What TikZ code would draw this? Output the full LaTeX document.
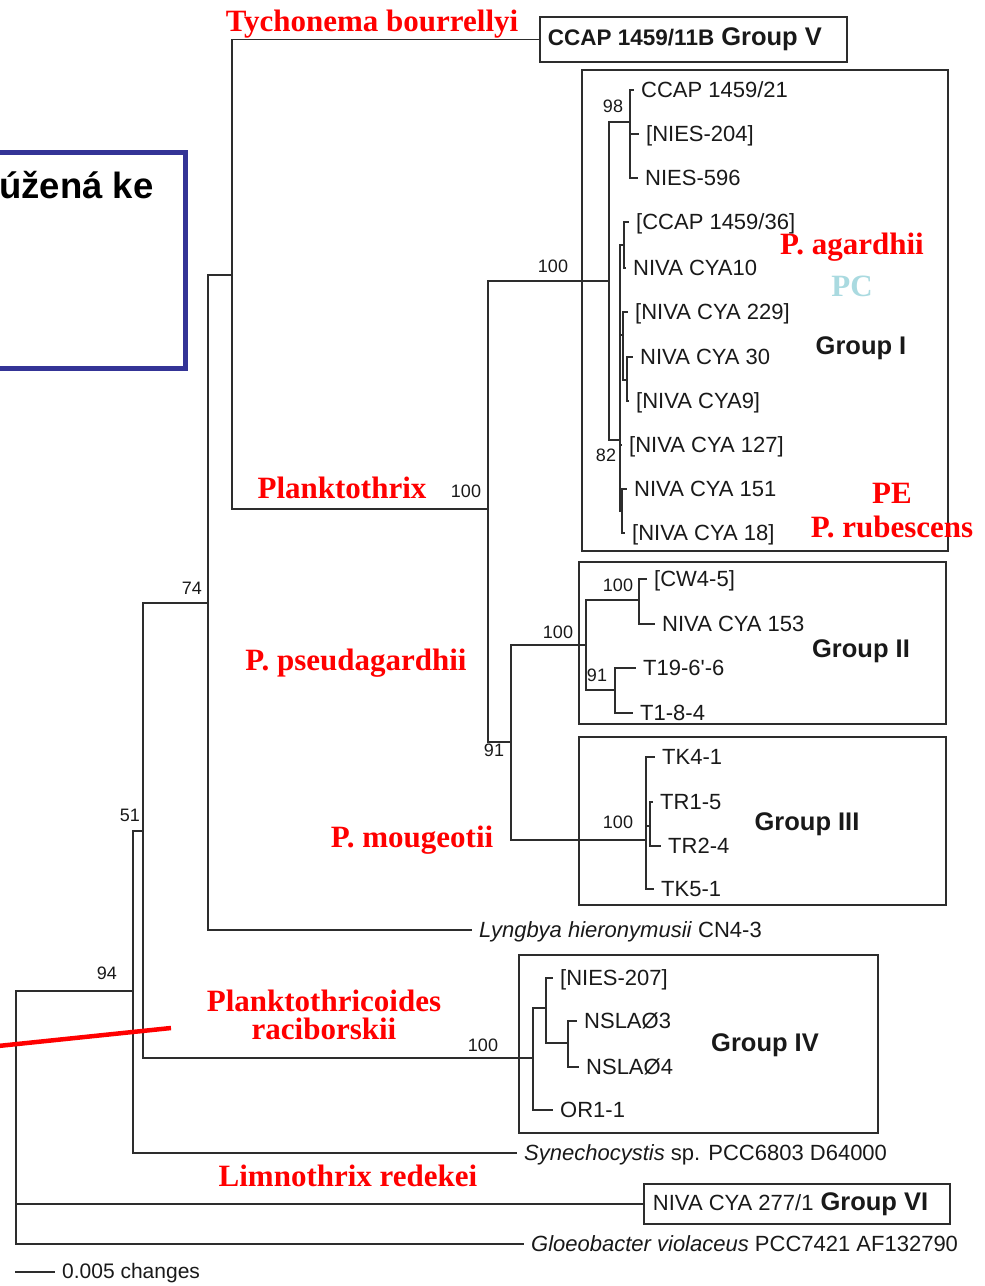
\documentclass[tikz,border=0pt]{standalone}
\usepackage{fontspec}
\setmainfont{Liberation Serif}
\setsansfont{Liberation Sans}
\definecolor{treegray}{RGB}{45,45,45}
\definecolor{leafink}{RGB}{25,25,25}
\definecolor{navyframe}{RGB}{52,52,150}
\definecolor{pcblue}{RGB}{170,218,224}
\begin{document}
\begin{tikzpicture}[x=1pt,y=-1pt,
  branch/.style={draw=treegray, line width=1.9pt},
  leaf/.style={anchor=west, inner xsep=7pt, inner ysep=0pt, text height=15.8pt, text depth=0pt,
    text=leafink, font=\sffamily\fontsize{22}{24}\selectfont},
  boot/.style={inner sep=0pt, text=leafink, font=\sffamily\fontsize{18}{20}\selectfont},
  grp/.style={inner sep=0pt, text=leafink, font=\sffamily\bfseries\fontsize{25.5}{28}\selectfont},
  taxon/.style={inner sep=0pt, text=red, font=\bfseries\fontsize{31}{33}\selectfont},
  gbox/.style={draw=treegray, line width=1.9pt, inner sep=0pt}]
\useasboundingbox (0,0) rectangle (985,1286);
\clip (0,0) rectangle (985,1286);

% framed caption block on the left
\draw[navyframe, line width=5pt] (-10,152.5) rectangle (185.5,368);
\node[anchor=base west, inner sep=0pt, font=\sffamily\bfseries\fontsize{36.5}{40}\selectfont] (cap) at (-1,198) {úžená ke};

% group frames
\node[gbox, minimum width=366pt, minimum height=481pt] (boxI) at (765,310.5) {};
\node[gbox, minimum width=367pt, minimum height=162pt] (boxII) at (762.5,643) {};
\node[gbox, minimum width=367pt, minimum height=168pt] (boxIII) at (762.5,821) {};
\node[gbox, minimum width=359pt, minimum height=178pt] (boxIV) at (698.5,1044) {};

% internal nodes of the tree
\coordinate (root) at (16,1100);
\coordinate (n94) at (133,991);
\coordinate (n51) at (143,831);
\coordinate (n74) at (208,603);
\coordinate (nTy) at (232,275);
\coordinate (nPl) at (488,509);
\coordinate (nGI) at (609,281);
\coordinate (n98) at (630,122);
\coordinate (n82) at (620,440);
\coordinate (nI1) at (624,245);
\coordinate (nI2) at (623,335);
\coordinate (nI3) at (627,380);
\coordinate (nI4) at (622,511);
\coordinate (n91) at (511,742);
\coordinate (nGII) at (586,645);
\coordinate (nCW) at (639,600);
\coordinate (nT) at (615,690);
\coordinate (nGIII) at (646,840);
\coordinate (nTR) at (650,826);
\coordinate (nIV) at (533,1058);
\coordinate (nIVa) at (546,1008);
\coordinate (nIVb) at (568,1043);

% terminal taxa
\node[leaf] (c21) at (634,90) {CCAP 1459/21};
\node[leaf] (n204) at (639,134) {[NIES-204]};
\node[leaf] (n596) at (638,178) {NIES-596};
\node[leaf] (c36) at (629,222) {[CCAP 1459/36]};
\node[leaf] (v10) at (626,268) {NIVA CYA10};
\node[leaf] (v229) at (628,312) {[NIVA CYA 229]};
\node[leaf] (v30) at (633,357) {NIVA CYA 30};
\node[leaf] (v9) at (629,401) {[NIVA CYA9]};
\node[leaf] (v127) at (622,445) {[NIVA CYA 127]};
\node[leaf] (v151) at (627,489) {NIVA CYA 151};
\node[leaf] (v18) at (625,533) {[NIVA CYA 18]};
\node[leaf] (cw) at (647,579) {[CW4-5]};
\node[leaf] (v153) at (655,624) {NIVA CYA 153};
\node[leaf] (t19) at (636,668) {T19-6\textquotesingle-6};
\node[leaf] (t18) at (633,713) {T1-8-4};
\node[leaf] (tk4) at (655,757) {TK4-1};
\node[leaf] (tr1) at (653,802) {TR1-5};
\node[leaf] (tr2) at (661,846) {TR2-4};
\node[leaf] (tk5) at (654,889) {TK5-1};
\node[leaf] (lyn) at (472,930) {\itshape Lyngbya hieronymusii\/\upshape\ CN4-3};
\node[leaf] (n207) at (553,978) {[NIES-207]};
\node[leaf] (ns3) at (577,1021) {NSLAØ3};
\node[leaf] (ns4) at (579,1067) {NSLAØ4};
\node[leaf] (or1) at (553,1110) {OR1-1};
\node[leaf] (syn) at (517,1153) {\itshape Synechocystis\/\upshape\ sp. PCC6803 D64000};
\node[leaf] (glo) at (524,1244) {\itshape Gloeobacter violaceus\/\upshape\ PCC7421 AF132790};
\node[gbox, anchor=west, inner xsep=8pt, minimum height=45pt, text=leafink, font=\sffamily\bfseries]
  (gV) at (539,39.5) {\fontsize{22.5}{24}\selectfont CCAP 1459/11B\hspace{7pt}\fontsize{25.5}{28}\selectfont Group V\rule{17pt}{0pt}};
\node[gbox, anchor=west, inner xsep=9pt, minimum height=40pt, text=leafink, font=\sffamily]
  (gVI) at (643,1204) {\fontsize{22}{24}\selectfont NIVA CYA 277/1\hspace{7pt}\bfseries\fontsize{25.5}{28}\selectfont Group VI\rule{13pt}{0pt}};

% branches
\draw[branch] (root) |- (n94);
\draw[branch] (root) |- (gVI.west);
\draw[branch] (root) |- (glo.west);
\draw[branch] (n94) |- (n51);
\draw[branch] (n94) |- (syn.west);
\draw[branch] (n51) |- (n74);
\draw[branch] (n51) |- (nIV);
\draw[branch] (n74) |- (nTy);
\draw[branch] (n74) |- (lyn.west);
\draw[branch] (nTy) |- (gV.west);
\draw[branch] (nTy) |- (nPl);
\draw[branch] (nPl) |- (nGI);
\draw[branch] (nPl) |- (n91);
\draw[branch] (nGI) |- (n98);
\draw[branch] (nGI) |- (n82);
\draw[branch] (n98) |- (c21.west);
\draw[branch] (n98) |- (n204.west);
\draw[branch] (n98) |- (n596.west);
\draw[branch] (n82) |- (nI1);
\draw[branch] (n82) |- (nI2);
\draw[branch] (n82) |- (v127.west);
\draw[branch] (n82) |- (nI4);
\draw[branch] (nI1) |- (c36.west);
\draw[branch] (nI1) |- (v10.west);
\draw[branch] (nI2) |- (v229.west);
\draw[branch] (nI2) |- (nI3);
\draw[branch] (nI3) |- (v30.west);
\draw[branch] (nI3) |- (v9.west);
\draw[branch] (nI4) |- (v151.west);
\draw[branch] (nI4) |- (v18.west);
\draw[branch] (n91) |- (nGII);
\draw[branch] (n91) |- (nGIII);
\draw[branch] (nGII) |- (nCW);
\draw[branch] (nGII) |- (nT);
\draw[branch] (nCW) |- (cw.west);
\draw[branch] (nCW) |- (v153.west);
\draw[branch] (nT) |- (t19.west);
\draw[branch] (nT) |- (t18.west);
\draw[branch] (nGIII) |- (tk4.west);
\draw[branch] (nGIII) |- (nTR);
\draw[branch] (nGIII) |- (tk5.west);
\draw[branch] (nTR) |- (tr1.west);
\draw[branch] (nTR) |- (tr2.west);
\draw[branch] (nIV) |- (nIVa);
\draw[branch] (nIV) |- (or1.west);
\draw[branch] (nIVa) |- (n207.west);
\draw[branch] (nIVa) |- (nIVb);
\draw[branch] (nIVb) |- (ns3.west);
\draw[branch] (nIVb) |- (ns4.west);

% bootstrap values
\node[boot] (b98) at (613,106) {98};
\node[boot] (bGI) at (553,266) {100};
\node[boot] (b82) at (606,455) {82};
\node[boot] (bPl) at (466,491) {100};
\node[boot] (b74) at (192,588) {74};
\node[boot] (bCW) at (618,585) {100};
\node[boot] (bGII) at (558,632) {100};
\node[boot] (bT) at (597,675) {91};
\node[boot] (b91) at (494,750) {91};
\node[boot] (bGIII) at (618,822) {100};
\node[boot] (b51) at (130,815) {51};
\node[boot] (b94) at (107,973) {94};
\node[boot] (bIV) at (483,1045) {100};

% group names
\node[grp] (lI) at (861,348) {Group I};
\node[grp] (lII) at (861,651) {Group II};
\node[grp] (lIII) at (807,824) {Group III};
\node[grp] (lIV) at (765,1045) {Group IV};

% genus and species annotations
\node[taxon] (tTy) at (372,24) {Tychonema bourrellyi};
\node[taxon] (tAg) at (852,247) {P. agardhii};
\node[taxon, text=pcblue] (tPC) at (852,286) {PC};
\node[taxon] (tPE) at (892,493) {PE};
\node[taxon] (tRu) at (892,527) {P. rubescens};
\node[taxon] (tPl) at (342,488) {Planktothrix};
\node[taxon] (tPs) at (356,663) {P. pseudagardhii};
\node[taxon] (tMo) at (412,840) {P. mougeotii};
\node[taxon, anchor=base] (tRa1) at (324,1011) {Planktothricoides};
\node[taxon, anchor=base] (tRa2) at (324,1039) {raciborskii};
\node[taxon] (tLi) at (348,1176) {Limnothrix redekei};

% pointer line
\coordinate (rl1) at (-2,1046);
\coordinate (rl2) at (171,1028);
\draw[red, line width=4.5pt] (rl1) -- (rl2);

% scale bar
\coordinate (sb1) at (15,1272);
\coordinate (sb2) at (55,1272);
\draw[treegray, line width=1.9pt] (sb1) -- (sb2);
\node[anchor=west, inner sep=0pt, text=leafink, font=\sffamily\fontsize{21}{23}\selectfont] (sbl) at (62,1273) {0.005 changes};
\end{tikzpicture}
\end{document}
